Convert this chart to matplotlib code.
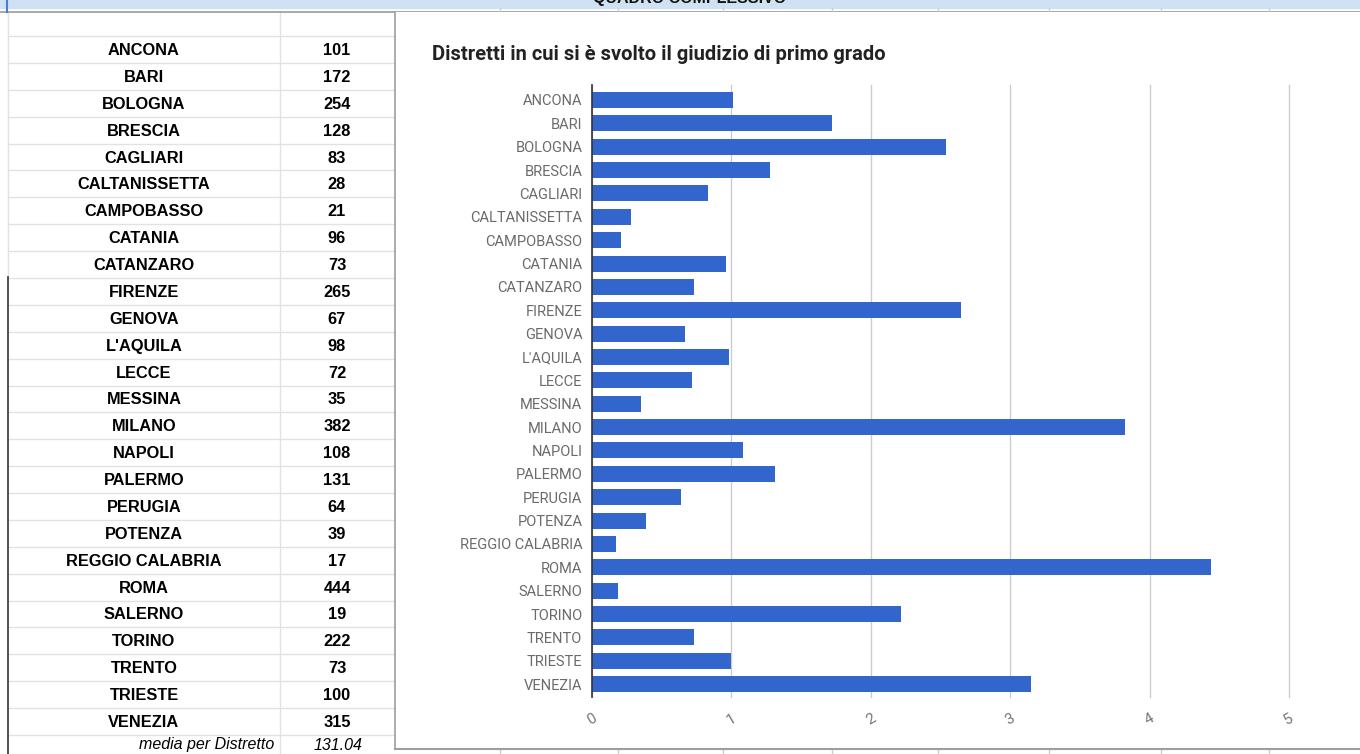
import matplotlib
matplotlib.use("Agg")
import matplotlib.pyplot as plt
import numpy as np

# dati dalla tabella
distretti = ["ANCONA", "BARI", "BOLOGNA", "BRESCIA", "CAGLIARI", "CALTANISSETTA",
             "CAMPOBASSO", "CATANIA", "CATANZARO", "FIRENZE", "GENOVA", "L'AQUILA",
             "LECCE", "MESSINA", "MILANO", "NAPOLI", "PALERMO", "PERUGIA", "POTENZA",
             "REGGIO CALABRIA", "ROMA", "SALERNO", "TORINO", "TRENTO", "TRIESTE", "VENEZIA"]
valori = [101, 172, 254, 128, 83, 28, 21, 96, 73, 265, 67, 98, 72, 35, 382, 108,
          131, 64, 39, 17, 444, 19, 222, 73, 100, 315]
media_label = "media per Distretto"
media_valore = "131.04"
titolo = "Distretti in cui si è svolto il giudizio di primo grado"
x_ticks = [0, 1, 2, 3, 4, 5]

W, H = 1360, 754
fig = plt.figure(figsize=(W / 100, H / 100), dpi=100)
fig.patch.set_facecolor("white")

# sfondo in coordinate pixel (foglio di calcolo)
bg = fig.add_axes([0, 0, 1, 1])
bg.set_xlim(0, W)
bg.set_ylim(H, 0)
bg.axis("off")

# striscia blu in alto
bg.add_patch(plt.Rectangle((0, 0), W, 8, color="#cfe2f3", zorder=1))
bg.text(690, -2, "QUADRO COMPLESSIVO", ha="center", va="center", fontsize=11.5,
        fontweight="bold", family="Liberation Sans", color="#111", zorder=2, clip_on=True)
bg.plot([0, W], [12, 12], color="#9a9a9a", lw=1.2, zorder=2)
bg.plot([7, 7], [0, 12], color="#4a7bd8", lw=1.5, zorder=2)

row0 = 49.5
pitch = 26.88
grid_c = "#e2e2e2"
# righe della tabella
for k in range(len(distretti) + 2):
    yl = row0 - pitch / 2 + k * pitch
    bg.plot([8, 395], [yl, yl], color=grid_c, lw=1, zorder=1)
bg.plot([280, 280], [12, H], color=grid_c, lw=1, zorder=1)
bg.plot([8, 8], [12, 277], color=grid_c, lw=1, zorder=1)
bg.plot([8, 8], [277, H], color="#333333", lw=1.2, zorder=1)

for i, (nome, v) in enumerate(zip(distretti, valori)):
    y = row0 + 1 + i * pitch
    bg.text(144, y, nome, ha="center", va="center", fontsize=11.8, fontweight="bold",
            family="Liberation Sans", color="#000")
    bg.text(337, y, str(v), ha="center", va="center", fontsize=11.8, fontweight="bold",
            family="Liberation Sans", color="#000")
y_media = 745
bg.text(274, y_media, media_label, ha="right", va="center", fontsize=11.5, style="italic",
        family="Liberation Sans", color="#000")
bg.text(338, y_media, media_valore, ha="center", va="center", fontsize=11.5, style="italic",
        family="Liberation Sans", color="#000")

# riquadro del grafico
bg.add_patch(plt.Rectangle((395, 12), W - 395, 736, facecolor="white", edgecolor="none", zorder=3))
bg.plot([395, 395], [12, 749], color="#9e9e9e", lw=1.2, zorder=4)
bg.plot([395, W], [748.5, 748.5], color="#9e9e9e", lw=1.5, zorder=4)
for xc in [500, 618, 723, 832, 938, 1049, 1161, 1269]:
    bg.plot([xc, xc], [749, H], color="#cccccc", lw=1, zorder=2)
    bg.plot([xc, xc], [8, 12], color="#cccccc", lw=1, zorder=2)

bg.text(432, 55, titolo, ha="left", va="center", fontsize=14.5, fontweight="bold",
        family="Roboto", color="#222222", zorder=5)

# grafico a barre
x0, x1 = 592, 1289
y_top, y_bot = 85, 697
ax = fig.add_axes([x0 / W, 1 - y_bot / H, (x1 - x0) / W, (y_bot - y_top) / H])
ax.set_facecolor("none")
ax.set_zorder(5)
pos = np.arange(len(distretti))
ax.barh(pos, np.array(valori) / 100, height=0.685, color="#3366cc", zorder=3)
ax.set_ylim(len(distretti) - 1 + 0.55, -0.64)
ax.set_xlim(0, 5)
ax.set_yticks(pos)
ax.set_yticklabels(distretti, family="Roboto", fontsize=10.5, color="#6b6b6b")
ax.set_xticks(x_ticks)
ax.set_xticklabels([str(t) for t in x_ticks], family="Roboto", fontsize=11,
                   color="#777777", rotation=30)
ax.tick_params(axis="y", length=0, pad=7)
ax.tick_params(axis="x", length=0, pad=10)
ax.grid(axis="x", color="#cccccc", lw=1, zorder=0, clip_on=False)
for s in ["top", "right", "bottom"]:
    ax.spines[s].set_visible(False)
ax.spines["left"].set_color("#333333")
ax.spines["left"].set_linewidth(1.2)
ax.spines["left"].set_zorder(4)

fig.savefig("out.png", dpi=100)
